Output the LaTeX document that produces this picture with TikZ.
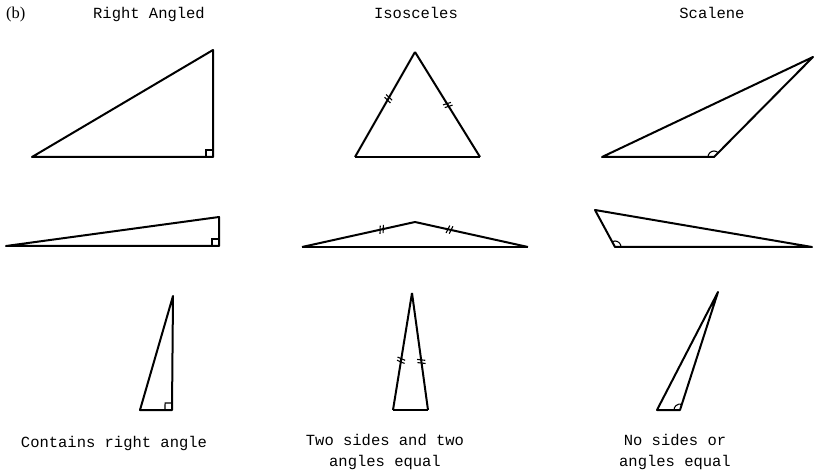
\documentclass[tikz,border=0pt]{standalone}
\usepackage{fontspec}
\setmainfont{Liberation Serif}
\setmonofont{Liberation Mono}
\usetikzlibrary{angles,decorations.markings}
\tikzset{
  tri/.style={line width=2pt, line join=round},
  lbl/.style={font=\ttfamily\fontsize{15.5}{21}\selectfont, inner sep=0pt, align=center},
  ramark/.style={draw, line width=1.1pt, angle radius=7pt},
  obmark/.style={draw, line width=1.1pt, angle radius=6pt},
  ticks/.style={postaction={decorate, decoration={markings, mark=at position #1 with {
     \draw[line width=1.1pt] (-2pt,-4pt)--(0pt,4pt) (1.2pt,-4pt)--(3.2pt,4pt);}}}},
}
\begin{document}
\begin{tikzpicture}[x=1pt,y=-1pt]
\useasboundingbox (0,0) rectangle (815,476);
% labels
\node[font=\fontsize{16.5}{18}\selectfont, anchor=base west, inner sep=0pt] (b) at (6,19) {(b)};
\node[lbl, anchor=base] (t1) at (149,19) {Right Angled};
\node[lbl, anchor=base] (t2) at (416,19) {Isosceles};
\node[lbl, anchor=base] (t3) at (712,19) {Scalene};
\node[lbl, anchor=base] (c1) at (114,447) {Contains right angle};
\node[lbl, anchor=north] (c2) at (385,434) {Two sides and two\\angles equal};
\node[lbl, anchor=north] (c3) at (675,434) {No sides or\\angles equal};
% row 1
\coordinate (r1a) at (32,157); \coordinate (r1b) at (213,157); \coordinate (r1c) at (213,50);
\draw[tri] (r1a)--(r1b)--(r1c)--cycle;
\pic[ramark] {right angle = r1c--r1b--r1a};
\coordinate (i1a) at (355,157); \coordinate (i1b) at (480,157); \coordinate (i1c) at (415,52);
\draw[tri] (i1a)--(i1b);
\draw[tri, ticks=0.55] (i1a)--(i1c);
\draw[tri, ticks=0.5] (i1c)--(i1b);
\coordinate (s1a) at (602,157); \coordinate (s1b) at (714,157); \coordinate (s1c) at (813,57);
\draw[tri] (s1a)--(s1b)--(s1c)--cycle;
\pic[obmark] {angle = s1c--s1b--s1a};
% row 2
\coordinate (r2a) at (6,246); \coordinate (r2b) at (219,246); \coordinate (r2c) at (219,217);
\draw[tri] (r2a)--(r2b)--(r2c)--cycle;
\pic[ramark] {right angle = r2c--r2b--r2a};
\coordinate (i2a) at (302,247); \coordinate (i2b) at (528,247); \coordinate (i2c) at (415,222);
\draw[tri] (i2a)--(i2b);
\draw[tri, ticks=0.7] (i2a)--(i2c);
\draw[tri, ticks=0.3] (i2c)--(i2b);
\coordinate (s2a) at (595,210); \coordinate (s2b) at (615,247); \coordinate (s2c) at (812,247);
\draw[tri] (s2a)--(s2b)--(s2c)--cycle;
\pic[obmark] {angle = s2c--s2b--s2a};
% row 3
\coordinate (r3a) at (140,410); \coordinate (r3b) at (172,410); \coordinate (r3c) at (173,296);
\draw[tri] (r3a)--(r3b)--(r3c)--cycle;
\pic[ramark] {right angle = r3c--r3b--r3a};
\coordinate (i3a) at (393,410); \coordinate (i3b) at (428,410); \coordinate (i3c) at (412,293);
\draw[tri] (i3a)--(i3b);
\draw[tri, ticks=0.42] (i3a)--(i3c);
\draw[tri, ticks=0.58] (i3c)--(i3b);
\coordinate (s3a) at (657,410); \coordinate (s3b) at (680,410); \coordinate (s3c) at (718,292);
\draw[tri] (s3a)--(s3b)--(s3c)--cycle;
\pic[obmark] {angle = s3c--s3b--s3a};
\end{tikzpicture}
\end{document}
